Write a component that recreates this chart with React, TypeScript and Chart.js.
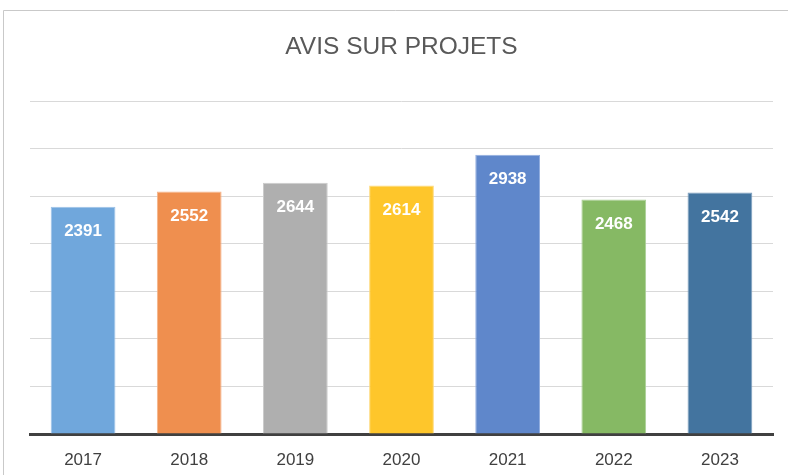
import React, { useEffect, useRef } from "react";
import { Chart, registerables } from "chart.js";

Chart.register(...registerables);

const TITLE = "AVIS SUR PROJETS";
const categories = ["2017", "2018", "2019", "2020", "2021", "2022", "2023"];
const values = [2391, 2552, 2644, 2614, 2938, 2468, 2542];
const barColors = ["#70a7dc", "#ef8f4f", "#afafaf", "#fec62b", "#5f87cb", "#86b964", "#43749f"];
const barBorders = ["#9cc2e8", "#f5b48a", "#cbcbcb", "#fed97a", "#93aee0", "#aad096", "#7b9dbd"];
const yMin = 0;
const yMax = 3500;
const yStep = 500;

const frameBorder = {
  id: "frameBorder",
  beforeDraw(chart: any) {
    const { ctx, width, height } = chart;
    ctx.save();
    ctx.fillStyle = "#ffffff";
    ctx.fillRect(0, 0, width, height);
    ctx.strokeStyle = "#c9c9c9";
    ctx.lineWidth = 1;
    ctx.beginPath();
    ctx.moveTo(3.5, height);
    ctx.lineTo(3.5, 10.5);
    ctx.lineTo(width, 10.5);
    ctx.stroke();
    ctx.restore();
  },
};

const valueLabels = {
  id: "valueLabels",
  afterDatasetsDraw(chart: any) {
    const { ctx } = chart;
    const meta = chart.getDatasetMeta(0);
    const data = chart.data.datasets[0].data;
    ctx.save();
    ctx.fillStyle = "#ffffff";
    ctx.font = "bold 17px 'Liberation Sans', Arial, sans-serif";
    ctx.textAlign = "center";
    ctx.textBaseline = "middle";
    meta.data.forEach((el: any, i: number) => {
      ctx.fillText(String(data[i]), el.x, el.y + 25);
    });
    ctx.restore();
  },
};

export default function App() {
  const ref = useRef<HTMLCanvasElement>(null);
  useEffect(() => {
    if (!ref.current) return;
    const chart = new Chart(ref.current, {
      type: "bar",
      data: {
        labels: categories,
        datasets: [
          {
            data: values,
            backgroundColor: barColors,
            borderColor: barBorders,
            borderWidth: 1,
            categoryPercentage: 0.61,
            barPercentage: 1,
          },
        ],
      },
      options: {
        responsive: false,
        animation: false,
        layout: { padding: { left: 30, right: 15, top: 0, bottom: 0 } },
        plugins: {
          legend: { display: false },
          tooltip: { enabled: false },
          title: {
            display: true,
            text: TITLE,
            color: "#595959",
            font: { family: "'Liberation Sans', Arial, sans-serif", size: 24.5, weight: "normal" },
            padding: { top: 33, bottom: 39 },
          },
        },
        scales: {
          x: {
            z: 1,
            grid: { display: false, drawTicks: false },
            border: { display: true, color: "#404040", width: 3 },
            ticks: {
              color: "#404040",
              font: { family: "'Liberation Sans', Arial, sans-serif", size: 17 },
              padding: 16,
            },
            afterFit: (s: any) => {
              s.height = 41;
            },
          },
          y: {
            min: yMin,
            max: yMax,
            ticks: { display: false, stepSize: yStep },
            border: { display: false },
            grid: {
              drawTicks: false,
              color: (c: any) => (c.tick && c.tick.value === 0 ? "rgba(0,0,0,0)" : "#d9d9d9"),
              lineWidth: 1,
            },
            afterFit: (s: any) => {
              s.width = 0;
            },
          },
        },
      },
      plugins: [frameBorder, valueLabels],
    });
    return () => chart.destroy();
  }, []);
  return (
    <div style={{ position: "fixed", left: 0, top: 0, width: 788, height: 475, background: "#fff" }}>
      <canvas ref={ref} width={788} height={475} />
    </div>
  );
}
